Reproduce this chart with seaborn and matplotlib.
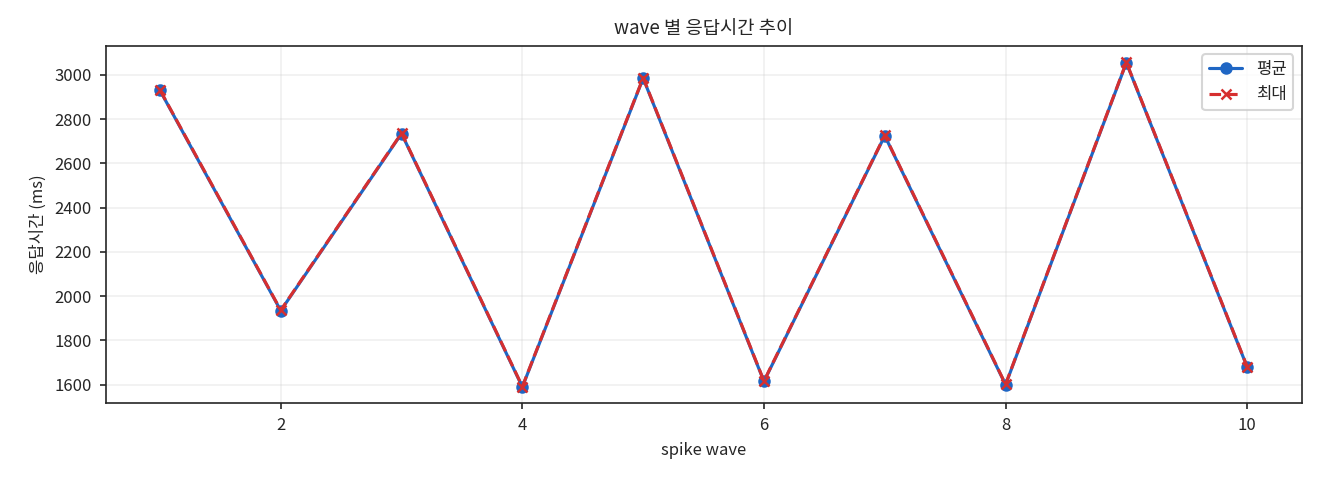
import matplotlib
matplotlib.use("Agg")
import matplotlib.pyplot as plt
import seaborn as sns
import pandas as pd

waves = [1, 2, 3, 4, 5, 6, 7, 8, 9, 10]
avg_ms = [2930, 1935, 2735, 1590, 2985, 1615, 2725, 1600, 3055, 1680]
max_ms = [2932, 1937, 2737, 1592, 2987, 1617, 2727, 1602, 3057, 1682]

sns.set_style("ticks")
plt.rcParams['font.family'] = ['Noto Sans CJK KR', 'DejaVu Sans']
plt.rcParams['axes.unicode_minus'] = False
plt.rcParams['font.size'] = 8

df = pd.DataFrame({"wave": waves, "avg": avg_ms, "max": max_ms})

fig, ax = plt.subplots(figsize=(8.8, 3.2), dpi=150)
sns.lineplot(data=df, x="wave", y="avg", ax=ax, color="#1f66c4", marker="o",
             markersize=5, markeredgecolor="#1f66c4", markeredgewidth=1, label="평균")
sns.lineplot(data=df, x="wave", y="max", ax=ax, color="#d62f2f", marker="x",
             markersize=5, markeredgecolor="#d62f2f", markeredgewidth=1.2,
             linestyle="--", dashes=False, label="최대")
ax.lines[1].set_linestyle("--")

ax.grid(True, alpha=0.3)
ax.set_title("wave 별 응답시간 추이", fontsize=9)
ax.set_xlabel("spike wave", fontsize=8)
ax.set_ylabel("응답시간 (ms)", fontsize=8)
leg = ax.legend(loc="upper right", fontsize=8)
leg.get_lines()[1].set_linestyle("--")
for s in ax.spines.values():
    s.set_visible(True)
    s.set_linewidth(0.8)
ax.tick_params(length=3, width=0.8)
plt.subplots_adjust(left=0.08, right=0.986, top=0.904, bottom=0.16)
plt.savefig("out.png")
plt.close()
